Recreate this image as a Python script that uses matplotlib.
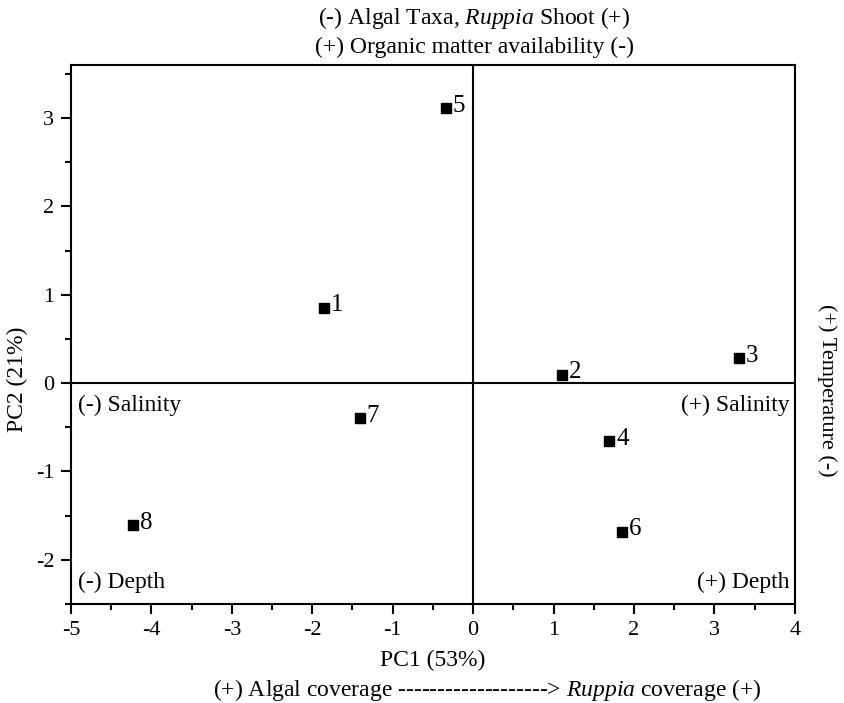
import matplotlib.pyplot as plt
from matplotlib.ticker import MultipleLocator

plt.rcParams['font.family'] = ['Liberation Serif', 'DejaVu Serif']
plt.rcParams['mathtext.fontset'] = 'custom'
plt.rcParams['mathtext.it'] = 'Liberation Serif:italic'
plt.rcParams['mathtext.rm'] = 'Liberation Serif'
plt.rcParams['axes.unicode_minus'] = False

sites = ['1', '2', '3', '4', '5', '6', '7', '8']
pc1 = [-1.85, 1.11, 3.30, 1.69, -0.34, 1.85, -1.41, -4.23]
pc2 = [0.85, 0.09, 0.28, -0.66, 3.11, -1.68, -0.40, -1.61]

fig = plt.figure(figsize=(8.44, 7.03), dpi=100)
ax = fig.add_axes([0.0841, 0.1408, 0.8577, 0.7667])

ax.scatter(pc1, pc2, marker='s', s=55, color='black', zorder=3)
for name, x, y in zip(sites, pc1, pc2):
    ax.annotate(name, (x, y), xytext=(5, 2), textcoords='offset points',
                fontsize=18, va='center', ha='left')

ax.axhline(0, color='black', lw=1.5)
ax.axvline(0, color='black', lw=1.5)

ax.set_xlim(-5, 4)
ax.set_ylim(-2.5, 3.6)
ax.xaxis.set_major_locator(MultipleLocator(1))
ax.xaxis.set_minor_locator(MultipleLocator(0.5))
ax.yaxis.set_major_locator(MultipleLocator(1))
ax.yaxis.set_minor_locator(MultipleLocator(0.5))
ax.tick_params(which='both', direction='out', top=False, right=False, width=1.5, labelsize=16)
ax.tick_params(which='major', length=7, pad=5)
ax.tick_params(which='minor', length=4)
for sp in ax.spines.values():
    sp.set_linewidth(1.5)

ax.set_xlabel('PC1 (53%)', fontsize=17, va='center')
ax.xaxis.set_label_coords(0.5, -0.104)
ax.set_ylabel('PC2 (21%)', fontsize=17, va='center')
ax.yaxis.set_label_coords(-0.074, 0.416)

ax.text(0.01, 0.369, '(-) Salinity', transform=ax.transAxes, fontsize=17, va='center', ha='left')
ax.text(0.993, 0.369, '(+) Salinity', transform=ax.transAxes, fontsize=17, va='center', ha='right')
ax.text(0.01, 0.041, '(-) Depth', transform=ax.transAxes, fontsize=17, va='center', ha='left')
ax.text(0.993, 0.041, '(+) Depth', transform=ax.transAxes, fontsize=17, va='center', ha='right')

fig.text(0.562, 0.974, r'(-) Algal Taxa, $\mathit{Ruppia}$ Shoot (+)', fontsize=17, ha='center', va='center')
fig.text(0.562, 0.932, '(+) Organic matter availability (-)', fontsize=17, ha='center', va='center')
fig.text(0.980, 0.445, '(+) Temperature (-)', fontsize=16, ha='center', va='center', rotation=270)
fig.text(0.577, 0.0185, r'(+) Algal coverage -------------------> $\mathit{Ruppia}$ coverage (+)',
         fontsize=17, ha='center', va='center')

fig.savefig('out.png', dpi=100)
